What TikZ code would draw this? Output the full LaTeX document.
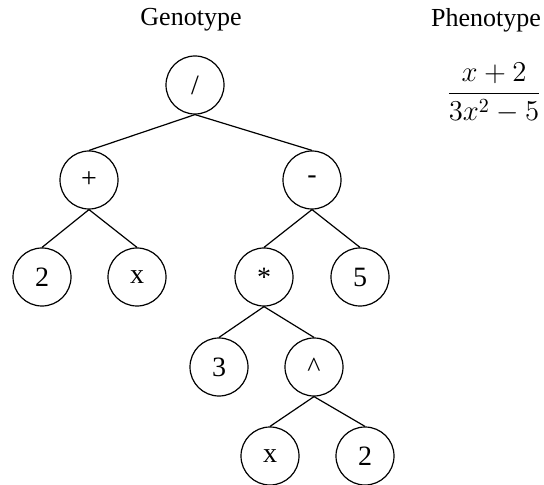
\documentclass[tikz,border=0pt]{standalone}
\usepackage{fontspec}
\setmainfont{Liberation Serif}
\usepackage{amsmath}
\usetikzlibrary{positioning}

\begin{document}
\begin{tikzpicture}[x=0.5pt, y=-0.5pt, line width=0.6pt]
  \tikzstyle{gene}=[circle, draw, minimum size=29pt, inner sep=0pt, font=\fontsize{14}{16}\selectfont]
  \tikzstyle{title}=[font=\fontsize{13}{15}\selectfont]
  \useasboundingbox (0,0) rectangle (544,485);
  % headings
  \node[title] (geno) at (191,20) {Genotype};
  \node[title] (pheno) at (486,20) {Phenotype};
  \node[font=\fontsize{14}{16}\selectfont] (expr) at (494,93) {$\dfrac{x+2}{3x^2-5}$};
  % expression tree
  \node[gene] (div) at (195,85) {/};
  \node[gene] (plus) at (89,180) {+};
  \node[gene] (minus) at (312,180) {-};
  \node[gene] (two) at (42,277) {2};
  \node[gene] (xa) at (137,277) {x};
  \node[gene] (times) at (264,277) {*};
  \node[gene] (five) at (360,277) {5};
  \node[gene] (three) at (219,367) {3};
  \node[gene] (pow) at (314,367) {\textasciicircum};
  \node[gene] (xb) at (270,456) {x};
  \node[gene] (twob) at (365,456) {2};
  \draw (div.south) -- (plus.north);
  \draw (div.south) -- (minus.north);
  \draw (plus.south) -- (two.north);
  \draw (plus.south) -- (xa.north);
  \draw (minus.south) -- (times.north);
  \draw (minus.south) -- (five.north);
  \draw (times.south) -- (three.north);
  \draw (times.south) -- (pow.north);
  \draw (pow.south) -- (xb.north);
  \draw (pow.south) -- (twob.north);
\end{tikzpicture}
\end{document}
